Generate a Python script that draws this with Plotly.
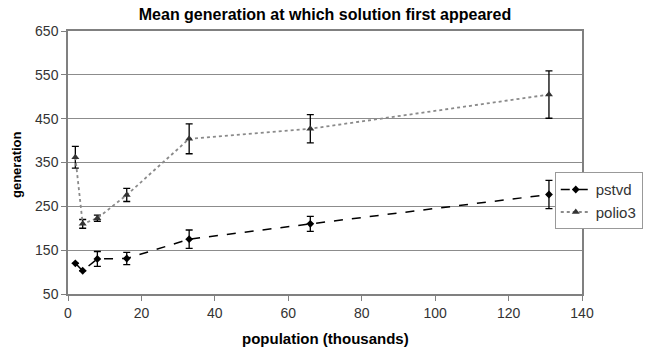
import plotly.graph_objects as go

population = [2, 4, 8, 16, 33, 66, 131]
pstvd = [120, 103, 130, 131, 175, 210, 277]
pstvd_err = [0, 0, 17, 14, 21, 17, 32]
polio3 = [362, 210, 223, 276, 404, 427, 505]
polio3_err = [25, 10, 7, 15, 34, 32, 54]

x_ticks = [0, 20, 40, 60, 80, 100, 120, 140]
y_ticks = [50, 150, 250, 350, 450, 550, 650]

FONT = "Liberation Sans, Arial, sans-serif"

fig = go.Figure()
fig.add_trace(go.Scatter(
    x=population, y=pstvd, name="pstvd", mode="lines+markers",
    line=dict(color="black", width=1.5, dash="dash"),
    marker=dict(symbol="diamond", size=6, color="black"),
    error_y=dict(type="data", array=pstvd_err, visible=True, color="black", thickness=1.3, width=3.5),
))
fig.add_trace(go.Scatter(
    x=population, y=polio3, name="polio3", mode="lines+markers",
    line=dict(color="#8a8a8a", width=1.8, dash="dot"),
    marker=dict(symbol="triangle-up", size=7, color="#333333"),
    error_y=dict(type="data", array=polio3_err, visible=True, color="black", thickness=1.3, width=3.5),
))

fig.update_layout(
    width=646, height=351,
    margin=dict(l=68, r=64, t=31, b=57, autoexpand=False),
    paper_bgcolor="white", plot_bgcolor="white",
    font=dict(family=FONT, size=14, color="#333333"),
    title=dict(text="<b>Mean generation at which solution first appeared</b>",
               x=(325 / 646), xanchor="center", y=1 - 14 / 351, yanchor="middle",
               font=dict(family=FONT, size=16, color="black")),
    showlegend=True,
    legend=dict(x=0.947, y=0.463, xanchor="left", yanchor="top",
                bgcolor="white", bordercolor="#999999", borderwidth=1,
                font=dict(family=FONT, size=15, color="#333333"),
                tracegroupgap=0, itemwidth=30),
    xaxis=dict(range=[0, 140], tickvals=x_ticks, showgrid=False, zeroline=False,
               showline=True, linecolor="#808080", linewidth=1.5, mirror=True,
               ticks="outside", ticklen=5, tickcolor="#808080", automargin=False),
    yaxis=dict(range=[50, 650], tickvals=y_ticks, showgrid=True, gridcolor="#8c8c8c",
               gridwidth=1, zeroline=False,
               showline=True, linecolor="#808080", linewidth=1.5, mirror=True,
               ticks="outside", ticklen=5, tickcolor="#808080", automargin=False),
    annotations=[
        dict(text="<b>population (thousands)</b>", xref="paper", yref="paper",
             x=0.5, y=(294 - 338) / 263, xanchor="center", yanchor="middle",
             showarrow=False, font=dict(family=FONT, size=15, color="black")),
        dict(text="<b>generation</b>", xref="paper", yref="paper",
             x=(16 - 68) / 514, y=(294 - 165) / 263, xanchor="center", yanchor="middle",
             textangle=-90, showarrow=False, font=dict(family=FONT, size=13, color="black")),
    ],
)

fig.write_html("out.html", config={"displayModeBar": False},
               post_script="document.body.style.margin='0';")
